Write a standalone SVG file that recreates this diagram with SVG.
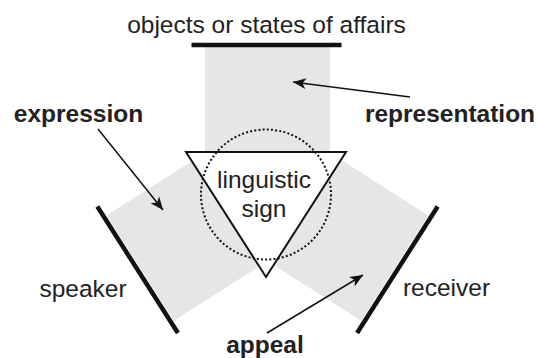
<svg xmlns="http://www.w3.org/2000/svg" width="538" height="358" viewBox="0 0 538 358">
<style>
.t{font-family:"Liberation Sans",Arial,sans-serif;font-size:24.5px;fill:#222;text-anchor:middle}
.b{font-weight:bold}
.band{fill:#e6e6e6}
.bar{stroke:#111;stroke-width:4.5;fill:none}
.arr{stroke:#111;stroke-width:1.5;fill:none;marker-end:url(#ah)}
</style>
<defs>
<marker id="ah" markerUnits="userSpaceOnUse" viewBox="-14 -7 16 14" refX="0" refY="0" markerWidth="16" markerHeight="14" orient="auto">
<path d="M0,0 L-13,-5.5 L-9.5,0 L-13,5.5 Z" fill="#111"/>
</marker>
</defs>
<g id="bands">
<rect class="band" x="205" y="47" width="125" height="140"/>
<rect class="band" x="-62.5" y="-151" width="125" height="151" transform="translate(267.5,187) rotate(-122.5)"/>
<rect class="band" x="-62.5" y="-151" width="125" height="151" transform="translate(267.5,187) rotate(122.5)"/>
</g>
<g id="objects">
<line class="bar" x1="191.5" y1="45" x2="341.5" y2="45"/>
<text class="t" x="266.5" y="33">objects or states of affairs</text>
</g>
<g id="speaker">
<line class="bar" x1="-75" y1="-154" x2="75" y2="-154" transform="translate(267.5,187) rotate(-122.5)"/>
<text class="t" x="83" y="296.5">speaker</text>
</g>
<g id="receiver">
<line class="bar" x1="-75" y1="-154" x2="75" y2="-154" transform="translate(267.5,187) rotate(122.5)"/>
<text class="t" x="446.5" y="295.5">receiver</text>
</g>
<g id="sign">
<polygon points="186,152 346,152 266,277" fill="#fff" stroke="#111" stroke-width="2" stroke-linejoin="miter"/>
<circle cx="266" cy="194.5" r="65" fill="none" stroke="#111" stroke-width="2" stroke-dasharray="2 2.2"/>
<text class="t" x="264" y="188">linguistic</text>
<text class="t" x="264" y="217">sign</text>
</g>
<g id="labels">
<text class="t b" x="78.5" y="121.5">expression</text>
<text class="t b" x="450" y="121.5">representation</text>
<text class="t b" x="265" y="353">appeal</text>
</g>
<g id="connectors">
<line class="arr" x1="410" y1="97" x2="293" y2="82"/>
<line class="arr" x1="98" y1="129" x2="163" y2="210"/>
<line class="arr" x1="267" y1="333" x2="363" y2="275"/>
</g>
</svg>
